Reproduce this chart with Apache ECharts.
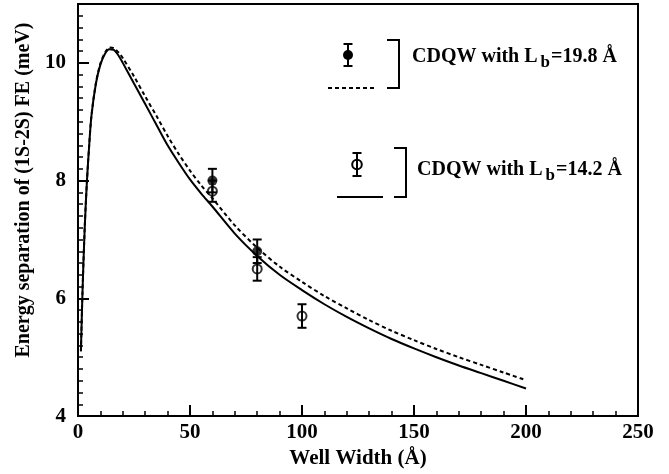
<!DOCTYPE html>
<html><head><meta charset="utf-8">
<script src="https://cdn.jsdelivr.net/npm/echarts@6/dist/echarts.min.js"></script>
<style>html,body{margin:0;padding:0;background:#fff}#c{width:669px;height:474px}</style>
</head><body><div id="c"></div>
<script>
// Lb = 14.2 Å theory (solid)
const solidX = [1.3, 2, 3, 4, 5, 6, 8, 10, 12, 14, 16, 18, 20, 25, 30, 35, 40, 45, 50, 55, 60, 70, 80, 90, 100, 110, 120, 130, 140, 150, 160, 170, 180, 190, 200];
const solidY = [5.1, 6.1, 7.2, 8.0, 8.6, 9.1, 9.65, 9.97, 10.15, 10.23, 10.22, 10.13, 10.0, 9.65, 9.3, 8.95, 8.6, 8.3, 8.02, 7.78, 7.56, 7.1, 6.72, 6.4, 6.14, 5.9, 5.685, 5.49, 5.31, 5.15, 5.0, 4.86, 4.73, 4.6, 4.47];
// Lb = 19.8 Å theory (dashed)
const dashX = [1.3, 2, 3, 4, 5, 6, 8, 10, 12, 14, 16, 18, 20, 25, 30, 35, 40, 45, 50, 55, 60, 70, 80, 90, 100, 110, 120, 130, 140, 150, 160, 170, 180, 190, 200];
const dashY = [5.1, 6.1, 7.2, 8.0, 8.6, 9.1, 9.66, 9.99, 10.17, 10.26, 10.25, 10.18, 10.08, 9.77, 9.43, 9.1, 8.76, 8.45, 8.17, 7.92, 7.7, 7.24, 6.86, 6.54, 6.28, 6.04, 5.83, 5.63, 5.45, 5.29, 5.14, 5.0, 4.87, 4.74, 4.61];
// experiment, filled (19.8) and open (14.2)
const filledX = [60, 80];
const filledY = [8.0, 6.8];
const filledErr = [0.2, 0.2];
const openX = [60, 80, 100];
const openY = [7.82, 6.5, 5.7];
const openErr = [0.18, 0.2, 0.2];
const xTicks = [0, 50, 100, 150, 200, 250];
const yTicks = [4, 6, 8, 10];
const legend1 = ['CDQW with L', 'b', '=19.8 Å'];
const legend2 = ['CDQW with L', 'b', '=14.2 Å'];

const FONT = '"Liberation Serif", "Times New Roman", serif';
const zip = (a, b) => a.map((v, i) => [v, b[i]]);
const zip3 = (a, b, c) => a.map((v, i) => [v, b[i], c[i]]);

function errRender(params, api) {
  const x = api.value(0), y = api.value(1), e = api.value(2);
  const top = api.coord([x, y + e]);
  const bot = api.coord([x, y - e]);
  const w = 4.5;
  const st = { stroke: '#000', lineWidth: 2 };
  return { type: 'group', children: [
    { type: 'line', shape: { x1: top[0], y1: top[1], x2: bot[0], y2: bot[1] }, style: st },
    { type: 'line', shape: { x1: top[0] - w, y1: top[1], x2: top[0] + w, y2: top[1] }, style: st },
    { type: 'line', shape: { x1: bot[0] - w, y1: bot[1], x2: bot[0] + w, y2: bot[1] }, style: st }
  ]};
}

const ctx = document.createElement('canvas').getContext('2d');
function tw(t, size) { ctx.font = 'bold ' + size + 'px ' + FONT; return ctx.measureText(t).width; }

function legendText(parts, x, y) {
  const fs = 20, sfs = 17;
  const w0 = tw(parts[0], fs), w1 = tw(parts[1], sfs);
  return [
    { type: 'text', left: x, top: y, style: { text: parts[0], font: 'bold ' + fs + 'px ' + FONT, fill: '#000' } },
    { type: 'text', left: x + w0 + 3, top: y + 7, style: { text: parts[1], font: 'bold ' + sfs + 'px ' + FONT, fill: '#000' } },
    { type: 'text', left: x + w0 + 3 + w1 + 1, top: y, style: { text: parts[2], font: 'bold ' + fs + 'px ' + FONT, fill: '#000' } }
  ];
}
function bracket(x, y1, y2, arm) {
  return { type: 'polyline', shape: { points: [[x - arm, y1], [x, y1], [x, y2], [x - arm, y2]] }, style: { stroke: '#000', lineWidth: 2, fill: null } };
}
const ls = { stroke: '#000', lineWidth: 2 };
const graphics = [
  // legend 1 (filled, dashed)
  { type: 'line', shape: { x1: 348, y1: 44, x2: 348, y2: 66 }, style: ls },
  { type: 'line', shape: { x1: 343.5, y1: 44, x2: 352.5, y2: 44 }, style: ls },
  { type: 'line', shape: { x1: 343.5, y1: 66, x2: 352.5, y2: 66 }, style: ls },
  { type: 'circle', shape: { cx: 348, cy: 55, r: 5 }, style: { fill: '#000' } },
  { type: 'line', shape: { x1: 328, y1: 88, x2: 377, y2: 88 }, style: { stroke: '#000', lineWidth: 2, lineDash: [4, 3] } },
  bracket(399, 40, 88, 12),
  ...legendText(legend1, 412, 47),
  // legend 2 (open, solid)
  { type: 'line', shape: { x1: 357, y1: 153, x2: 357, y2: 176 }, style: ls },
  { type: 'line', shape: { x1: 352.5, y1: 153, x2: 361.5, y2: 153 }, style: ls },
  { type: 'line', shape: { x1: 352.5, y1: 176, x2: 361.5, y2: 176 }, style: ls },
  { type: 'circle', shape: { cx: 357, cy: 164.5, r: 4.8 }, style: { fill: null, stroke: '#000', lineWidth: 2 } },
  { type: 'line', shape: { x1: 337, y1: 197, x2: 383, y2: 197 }, style: ls },
  bracket(406, 148, 197, 12),
  ...legendText(legend2, 417, 160)
];

const chart = echarts.init(document.getElementById('c'), null, { renderer: 'canvas' });
chart.setOption({
  animation: false,
  backgroundColor: '#fff',
  grid: { left: 78, right: 31, top: 4, bottom: 56, show: true, borderColor: '#000', borderWidth: 2, backgroundColor: 'transparent' },
  xAxis: {
    type: 'value', min: 0, max: 250, interval: 50,
    name: 'Well Width (Å)', nameLocation: 'middle', nameGap: 31,
    nameTextStyle: { fontFamily: FONT, fontWeight: 'bold', fontSize: 21, color: '#000' },
    axisLine: { show: true, lineStyle: { color: '#000', width: 2 } },
    axisTick: { show: true, inside: true, length: 11, lineStyle: { color: '#000', width: 2 } },
    minorTick: { show: true, splitNumber: 5, length: 5, lineStyle: { color: '#000', width: 1.5 } },
    axisLabel: { fontFamily: FONT, fontWeight: 'bold', fontSize: 21, color: '#000', margin: 6,
      formatter: v => xTicks.includes(v) ? String(v) : '' },
    splitLine: { show: false }
  },
  yAxis: {
    type: 'value', min: 4, max: 11, interval: 2,
    name: 'Energy separation of (1S-2S) FE (meV)', nameLocation: 'middle', nameGap: 42,
    nameTextStyle: { fontFamily: FONT, fontWeight: 'bold', fontSize: 20, color: '#000', padding: [0, 0, 0, 40] },
    axisLine: { show: true, lineStyle: { color: '#000', width: 2 } },
    axisTick: { show: true, inside: true, length: 11, lineStyle: { color: '#000', width: 2 } },
    minorTick: { show: true, splitNumber: 10, length: 5, lineStyle: { color: '#000', width: 1.5 } },
    axisLabel: { fontFamily: FONT, fontWeight: 'bold', fontSize: 21, color: '#000', margin: 12,
      formatter: v => yTicks.includes(v) ? String(v) : '' },
    splitLine: { show: false }
  },
  series: [
    { type: 'line', data: zip(solidX, solidY), showSymbol: false, smooth: 0.3,
      lineStyle: { color: '#000', width: 2 }, z: 3 },
    { type: 'line', data: zip(dashX, dashY), showSymbol: false, smooth: 0.3,
      lineStyle: { color: '#000', width: 2, type: [4, 3] }, z: 3 },
    { type: 'custom', renderItem: errRender, data: zip3(filledX, filledY, filledErr), z: 4 },
    { type: 'custom', renderItem: errRender, data: zip3(openX, openY, openErr), z: 4 },
    { type: 'scatter', data: zip(filledX, filledY), symbol: 'circle', symbolSize: 10,
      itemStyle: { color: '#000' }, z: 5 },
    { type: 'scatter', data: zip(openX, openY), symbol: 'circle', symbolSize: 9,
      itemStyle: { color: 'rgba(0,0,0,0)', borderColor: '#000', borderWidth: 2 }, z: 5 }
  ],
  graphic: graphics
});
</script></body></html>
